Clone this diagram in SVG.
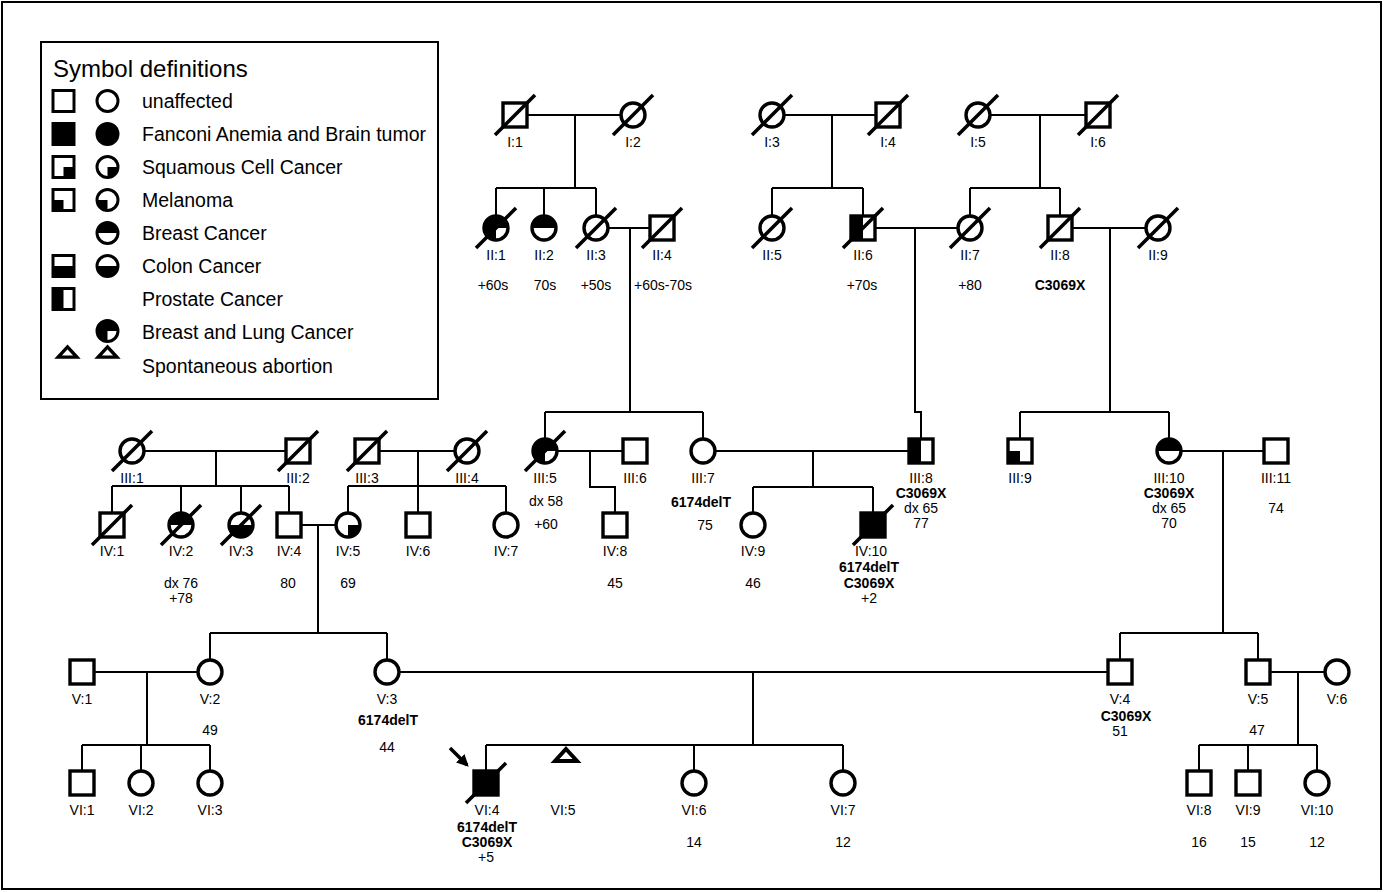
<svg xmlns="http://www.w3.org/2000/svg" xmlns:xlink="http://www.w3.org/1999/xlink" width="1384" height="892" viewBox="0 0 1384 892">
<style>
.sym{fill:#fff;stroke:#000;stroke-width:3.4}
.tr{fill:#fff;stroke:#000;stroke-width:4;stroke-linejoin:miter}
.ln{fill:none;stroke:#000;stroke-width:2}
.sl{stroke:#000;stroke-width:3.5;stroke-linecap:butt}
.t{font-family:"Liberation Sans",Arial,sans-serif;font-size:14px;text-anchor:middle;fill:#000}
.b{font-weight:bold}
.lg{font-family:"Liberation Sans",Arial,sans-serif;font-size:19.5px;fill:#000}
.ttl{font-size:24px}
</style>
<defs>
<rect id="sq" class="sym" x="-12" y="-12" width="24" height="24"/>
<circle id="ci" class="sym" r="12"/>
<line id="sl" class="sl" x1="-20" y1="20" x2="20" y2="-20"/>
<path id="cTop" d="M-12 0A12 12 0 0 1 12 0Z"/>
<path id="cBot" d="M-12 0A12 12 0 0 0 12 0Z"/>
<path id="cBR" d="M0 0H12A12 12 0 0 1 0 12Z"/>
<path id="cBL" d="M0 0V12A12 12 0 0 1 -12 0Z"/>
<path id="c3q" d="M0 0V12A12 12 0 1 1 12 0Z"/>
<rect id="sL" x="-12" y="-12" width="12" height="24"/>
<rect id="sBL" x="-12" y="0" width="12" height="12"/>
<rect id="sBR" x="0" y="0" width="12" height="12"/>
<rect id="sBot" x="-12" y="0" width="24" height="12"/>
<rect id="sFull" x="-12" y="-12" width="24" height="24"/>
<path id="tri" class="tr" d="M0 -6L11 6H-11Z"/>
<marker id="ah" viewBox="0 0 10 10" refX="8" refY="5" markerWidth="12" markerHeight="12" markerUnits="userSpaceOnUse" orient="auto"><path d="M0 0L10 5L0 10Z"/></marker>
</defs>
<rect x="0" y="0" width="1384" height="892" fill="#fff"/>
<rect x="2" y="2" width="1379" height="887" fill="none" stroke="#000" stroke-width="2"/>

<g id="legend">
<rect x="41" y="42" width="397" height="357" fill="#fff" stroke="#000" stroke-width="2"/>
<text class="lg ttl" x="53" y="77">Symbol definitions</text>
<g transform="translate(63.5,101) scale(0.875)"><use href="#sq"/></g>
<g transform="translate(107.5,101) scale(0.875)"><use href="#ci"/></g>
<text class="lg" x="142" y="108">unaffected</text>
<g transform="translate(63.5,134) scale(0.875)"><use href="#sq"/><use href="#sFull"/></g>
<g transform="translate(107.5,134) scale(0.875)"><use href="#ci"/><circle r="12"/></g>
<text class="lg" x="142" y="141">Fanconi Anemia and Brain tumor</text>
<g transform="translate(63.5,167) scale(0.875)"><use href="#sq"/><use href="#sBR"/></g>
<g transform="translate(107.5,167) scale(0.875)"><use href="#ci"/><use href="#cBR"/></g>
<text class="lg" x="142" y="174">Squamous Cell Cancer</text>
<g transform="translate(63.5,200) scale(0.875)"><use href="#sq"/><use href="#sBL"/></g>
<g transform="translate(107.5,200) scale(0.875)"><use href="#ci"/><use href="#cBL"/></g>
<text class="lg" x="142" y="207">Melanoma</text>
<g transform="translate(107.5,233) scale(0.875)"><use href="#ci"/><use href="#cTop"/></g>
<text class="lg" x="142" y="240">Breast Cancer</text>
<g transform="translate(63.5,266) scale(0.875)"><use href="#sq"/><use href="#sBot"/></g>
<g transform="translate(107.5,266) scale(0.875)"><use href="#ci"/><use href="#cBot"/></g>
<text class="lg" x="142" y="273">Colon Cancer</text>
<g transform="translate(63.5,299) scale(0.875)"><use href="#sq"/><use href="#sL"/></g>
<text class="lg" x="142" y="306">Prostate Cancer</text>
<g transform="translate(107.5,331) scale(0.875)"><use href="#ci"/><use href="#c3q"/></g>
<text class="lg" x="142" y="339">Breast and Lung Cancer</text>
<g transform="translate(67.5,352) scale(0.85)"><use href="#tri"/></g>
<g transform="translate(107.5,352) scale(0.85)"><use href="#tri"/></g>
<text class="lg" x="142" y="373">Spontaneous abortion</text>
</g>

<g id="connectors" class="ln">
<path d="M515 115H633M575 115V188M496 188H596M496 188V228M544 188V228M596 188V228"/>
<path d="M596 228H662M630 228V412M545 412H703M545 412V451M703 412V451"/>
<path d="M772 115H888M832 115V188M772 188H863M772 188V228M863 188V228"/>
<path d="M863 228H970M915 228V412H921V451"/>
<path d="M978 115H1098M1040 115V188M970 188H1060M970 188V228M1060 188V228"/>
<path d="M1060 228H1158M1110 228V412M1020 412H1169M1020 412V451M1169 412V451"/>
<path d="M1169 451H1276M1223 451V633M1120 633H1258M1120 633V672M1258 633V672"/>
<path d="M1258 672H1337M1298 672V745M1199 745H1317M1199 745V783M1248 745V783M1317 745V783"/>
<path d="M132 451H298M216 451V486M112 486H289M112 486V525M181 486V525M241 486V525M289 486V525"/>
<path d="M367 451H467M418 451V486M348 486H506M348 486V525M418 486V525M506 486V525"/>
<path d="M289 525H348M318 525V633M210 633H387M210 633V672M387 633V672"/>
<path d="M545 451H635M590 451V487H615V525"/>
<path d="M703 451H921M813 451V487M753 487H873M753 487V525M873 487V525"/>
<path d="M82 672H210M147 672V745M82 745H210M82 745V783M141 745V783M210 745V783"/>
<path d="M387 672H1120M753 672V745M486 745H843M486 745V783M694 745V783M843 745V783"/>
</g>

<g id="I1" transform="translate(515,115)"><use href="#sq"/><use href="#sl"/><text class="t" y="32">I:1</text></g>
<g id="I2" transform="translate(633,115)"><use href="#ci"/><use href="#sl"/><text class="t" y="32">I:2</text></g>
<g id="I3" transform="translate(772,115)"><use href="#ci"/><use href="#sl"/><text class="t" y="32">I:3</text></g>
<g id="I4" transform="translate(888,115)"><use href="#sq"/><use href="#sl"/><text class="t" y="32">I:4</text></g>
<g id="I5" transform="translate(978,115)"><use href="#ci"/><use href="#sl"/><text class="t" y="32">I:5</text></g>
<g id="I6" transform="translate(1098,115)"><use href="#sq"/><use href="#sl"/><text class="t" y="32">I:6</text></g>

<g id="II1" transform="translate(496,228)"><use href="#ci"/><use href="#c3q"/><use href="#sl"/><text class="t" y="32">II:1</text><text class="t" x="-3" y="62">+60s</text></g>
<g id="II2" transform="translate(544,228)"><use href="#ci"/><use href="#cTop"/><text class="t" y="32">II:2</text><text class="t" x="1" y="62">70s</text></g>
<g id="II3" transform="translate(596,228)"><use href="#ci"/><use href="#sl"/><text class="t" y="32">II:3</text><text class="t" y="62">+50s</text></g>
<g id="II4" transform="translate(662,228)"><use href="#sq"/><use href="#sl"/><text class="t" y="32">II:4</text><text class="t" x="1" y="62">+60s-70s</text></g>
<g id="II5" transform="translate(772,228)"><use href="#ci"/><use href="#sl"/><text class="t" y="32">II:5</text></g>
<g id="II6" transform="translate(863,228)"><use href="#sq"/><use href="#sL"/><use href="#sl"/><text class="t" y="32">II:6</text><text class="t" x="-1" y="62">+70s</text></g>
<g id="II7" transform="translate(970,228)"><use href="#ci"/><use href="#sl"/><text class="t" y="32">II:7</text><text class="t" y="62">+80</text></g>
<g id="II8" transform="translate(1060,228)"><use href="#sq"/><use href="#sl"/><text class="t" y="32">II:8</text><text class="t b" y="62">C3069X</text></g>
<g id="II9" transform="translate(1158,228)"><use href="#ci"/><use href="#sl"/><text class="t" y="32">II:9</text></g>

<g id="III1" transform="translate(132,451)"><use href="#ci"/><use href="#sl"/><text class="t" y="32">III:1</text></g>
<g id="III2" transform="translate(298,451)"><use href="#sq"/><use href="#sl"/><text class="t" y="32">III:2</text></g>
<g id="III3" transform="translate(367,451)"><use href="#sq"/><use href="#sl"/><text class="t" y="32">III:3</text></g>
<g id="III4" transform="translate(467,451)"><use href="#ci"/><use href="#sl"/><text class="t" y="32">III:4</text></g>
<g id="III5" transform="translate(545,451)"><use href="#ci"/><use href="#c3q"/><use href="#sl"/><text class="t" y="32">III:5</text><text class="t" x="1" y="55">dx 58</text><text class="t" x="1" y="78">+60</text></g>
<g id="III6" transform="translate(635,451)"><use href="#sq"/><text class="t" y="32">III:6</text></g>
<g id="III7" transform="translate(703,451)"><use href="#ci"/><text class="t" y="32">III:7</text><text class="t b" x="-2" y="56">6174delT</text><text class="t" x="2" y="79">75</text></g>
<g id="III8" transform="translate(921,451)"><use href="#sq"/><use href="#sL"/><text class="t" y="32">III:8</text><text class="t b" y="47">C3069X</text><text class="t" y="62">dx 65</text><text class="t" y="77">77</text></g>
<g id="III9" transform="translate(1020,451)"><use href="#sq"/><use href="#sBL"/><text class="t" y="32">III:9</text></g>
<g id="III10" transform="translate(1169,451)"><use href="#ci"/><use href="#cTop"/><text class="t" y="32">III:10</text><text class="t b" y="47">C3069X</text><text class="t" y="62">dx 65</text><text class="t" y="77">70</text></g>
<g id="III11" transform="translate(1276,451)"><use href="#sq"/><text class="t" y="32">III:11</text><text class="t" y="62">74</text></g>

<g id="IV1" transform="translate(112,525)"><use href="#sq"/><use href="#sl"/><text class="t" y="31">IV:1</text></g>
<g id="IV2" transform="translate(181,525)"><use href="#ci"/><use href="#cTop"/><use href="#sl"/><text class="t" y="31">IV:2</text><text class="t" y="63">dx 76</text><text class="t" y="78">+78</text></g>
<g id="IV3" transform="translate(241,525)"><use href="#ci"/><use href="#cBot"/><use href="#sl"/><text class="t" y="31">IV:3</text></g>
<g id="IV4" transform="translate(289,525)"><use href="#sq"/><text class="t" y="31">IV:4</text><text class="t" x="-1" y="63">80</text></g>
<g id="IV5" transform="translate(348,525)"><use href="#ci"/><use href="#cBR"/><text class="t" y="31">IV:5</text><text class="t" y="63">69</text></g>
<g id="IV6" transform="translate(418,525)"><use href="#sq"/><text class="t" y="31">IV:6</text></g>
<g id="IV7" transform="translate(506,525)"><use href="#ci"/><text class="t" y="31">IV:7</text></g>
<g id="IV8" transform="translate(615,525)"><use href="#sq"/><text class="t" y="31">IV:8</text><text class="t" y="63">45</text></g>
<g id="IV9" transform="translate(753,525)"><use href="#ci"/><text class="t" y="31">IV:9</text><text class="t" y="63">46</text></g>
<g id="IV10" transform="translate(873,525)"><use href="#sq"/><use href="#sFull"/><use href="#sl"/><text class="t" x="-2" y="31">IV:10</text><text class="t b" x="-4" y="47">6174delT</text><text class="t b" x="-4" y="63">C3069X</text><text class="t" x="-4" y="78">+2</text></g>

<g id="V1" transform="translate(82,672)"><use href="#sq"/><text class="t" y="32">V:1</text></g>
<g id="V2" transform="translate(210,672)"><use href="#ci"/><text class="t" y="32">V:2</text><text class="t" y="63">49</text></g>
<g id="V3" transform="translate(387,672)"><use href="#ci"/><text class="t" y="32">V:3</text><text class="t b" x="1" y="53">6174delT</text><text class="t" y="80">44</text></g>
<g id="V4" transform="translate(1120,672)"><use href="#sq"/><text class="t" y="32">V:4</text><text class="t b" x="6" y="49">C3069X</text><text class="t" y="64">51</text></g>
<g id="V5" transform="translate(1258,672)"><use href="#sq"/><text class="t" y="32">V:5</text><text class="t" x="-1" y="63">47</text></g>
<g id="V6" transform="translate(1337,672)"><use href="#ci"/><text class="t" y="32">V:6</text></g>

<g id="VI1" transform="translate(82,783)"><use href="#sq"/><text class="t" y="32">VI:1</text></g>
<g id="VI2" transform="translate(141,783)"><use href="#ci"/><text class="t" y="32">VI:2</text></g>
<g id="VI3" transform="translate(210,783)"><use href="#ci"/><text class="t" y="32">VI:3</text></g>
<g id="VI4" transform="translate(486,783)"><use href="#sq"/><use href="#sFull"/><use href="#sl"/><line x1="-36" y1="-35" x2="-19" y2="-18" stroke="#000" stroke-width="3.5" marker-end="url(#ah)"/><text class="t" x="1" y="32">VI:4</text><text class="t b" x="1" y="49">6174delT</text><text class="t b" x="1" y="64">C3069X</text><text class="t" y="79">+5</text></g>
<g id="VI5" transform="translate(566,755)"><use href="#tri"/><text class="t" x="-3" y="60">VI:5</text></g>
<g id="VI6" transform="translate(694,783)"><use href="#ci"/><text class="t" y="32">VI:6</text><text class="t" y="64">14</text></g>
<g id="VI7" transform="translate(843,783)"><use href="#ci"/><text class="t" y="32">VI:7</text><text class="t" y="64">12</text></g>
<g id="VI8" transform="translate(1199,783)"><use href="#sq"/><text class="t" y="32">VI:8</text><text class="t" y="64">16</text></g>
<g id="VI9" transform="translate(1248,783)"><use href="#sq"/><text class="t" y="32">VI:9</text><text class="t" y="64">15</text></g>
<g id="VI10" transform="translate(1317,783)"><use href="#ci"/><text class="t" y="32">VI:10</text><text class="t" y="64">12</text></g>
</svg>
